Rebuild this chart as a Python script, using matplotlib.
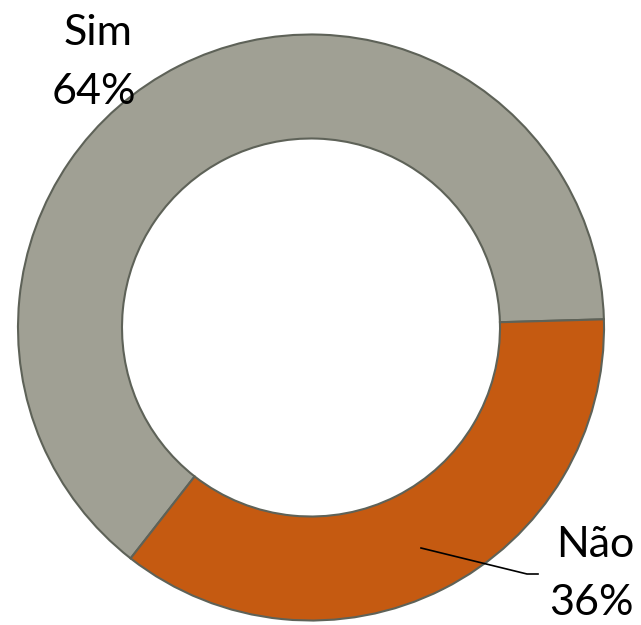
import matplotlib

matplotlib.use("Agg")

import matplotlib.pyplot as plt

LABELS = ["Sim", "Não"]
VALUES = [64, 36]
COLORS = ["#A0A094", "#C55A11"]
EDGE = "#5E6258"

W, H = 641, 625
CX, CY, R = 311, 327.5, 293
HOLE = 189 / 293


def py(y):
    # pixel row (from top) to data y
    return H - y


def main() -> None:
    plt.rcParams["font.family"] = ["Lato", "DejaVu Sans"]
    fig = plt.figure(figsize=(W / 100, H / 100), dpi=100)
    ax = fig.add_axes([0, 0, 1, 1])

    ax.pie(
        VALUES,
        colors=COLORS,
        startangle=232,
        counterclock=False,
        center=(CX, py(CY)),
        radius=R,
        wedgeprops=dict(width=R * (1 - HOLE), edgecolor=EDGE, linewidth=1.5),
    )
    ax.set_aspect("auto")
    ax.set_xlim(0, W)
    ax.set_ylim(0, H)
    ax.axis("off")

    fs = 31
    ax.text(98, py(45), LABELS[0], fontsize=fs, ha="center", va="baseline")
    ax.text(94, py(104), f"{VALUES[0]}%", fontsize=fs, ha="center", va="baseline")
    ax.text(595, py(557), LABELS[1], fontsize=fs, ha="center", va="baseline")
    ax.text(591, py(615), f"{VALUES[1]}%", fontsize=fs, ha="center", va="baseline")

    ax.plot([421, 527, 538], [py(548), py(574), py(574)], color="black", linewidth=1.2)

    fig.savefig("out.png", dpi=100)
    plt.close(fig)


if __name__ == "__main__":
    main()
